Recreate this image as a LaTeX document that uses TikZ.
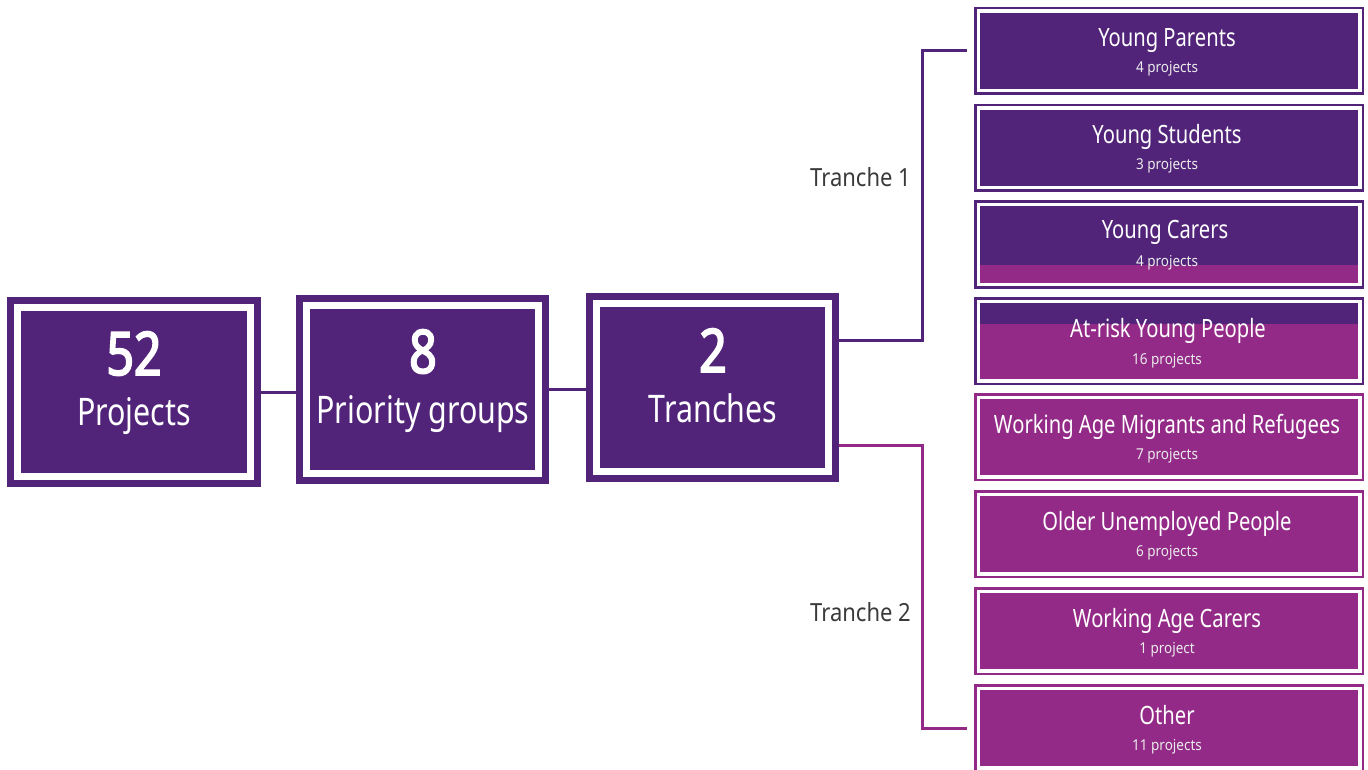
\documentclass[tikz,border=0pt]{standalone}
\usepackage{fontspec}
\setmainfont{Noto Sans}[FakeStretch=0.8]
\newfontfamily\numfont{Noto Sans}[FakeStretch=0.8, FakeBold=3]
\newfontfamily\subfont{Noto Sans}[FakeStretch=0.9]
\newfontfamily\lblfont{Noto Sans}[FakeStretch=0.88]
\definecolor{dkp}{RGB}{81,36,122}
\definecolor{mag}{RGB}{147,42,135}
\definecolor{lbl}{RGB}{58,58,58}
\tikzset{
  bigbox/.style={fill=dkp, draw=none, inner sep=0pt,
    minimum width=253pt, minimum height=189pt,
    path picture={\draw[white, line width=7pt]
      ([shift={(10.5pt,-10.5pt)}]path picture bounding box.north west) rectangle
      ([shift={(-10.5pt,10.5pt)}]path picture bounding box.south east);}},
  bignum/.style={text=white, anchor=base, font=\numfont\fontsize{60}{60}\selectfont, inner sep=0pt},
  bigword/.style={text=white, anchor=base, font=\fontsize{38}{38}\selectfont, inner sep=0pt},
  rbox/.style={draw=#1, line width=2.5pt, fill=white, inner sep=0pt,
    minimum width=387.5pt, minimum height=85.5pt},
  rtitle/.style={text=white, anchor=base, font=\fontsize{25.2}{26}\selectfont, inner sep=0pt},
  rsub/.style={text=white!92!black, anchor=base, font=\subfont\fontsize{15}{16}\selectfont, inner sep=0pt},
  tlabel/.style={text=lbl, anchor=base east, font=\lblfont\fontsize{25}{26}\selectfont, inner sep=0pt},
  link/.style={draw=#1, line width=3pt},
}
% inner panel of a group box, inset from the frame
\newcommand{\panel}[2]{\fill[#2] ([shift={(5.75pt,-5.75pt)}]#1.north west) rectangle ([shift={(-5.75pt,5.75pt)}]#1.south east);}
% one group box: name, top edge, frame colour, panel colour, title, count
\newcommand{\groupbox}[6]{%
  \node[rbox=#3] (#1) at (1169,{#2+44}) {};
  \panel{#1}{#4}
  \node[rtitle] (#1-t) at (1167,{#2+40}) {#5};
  \node[rsub] (#1-s) at (1167,{#2+66}) {#6};
}
\begin{document}
\begin{tikzpicture}[x=1pt,y=-1pt]
\useasboundingbox (0,0) rectangle (1368,770);

% summary boxes
\node[bigbox, minimum width=254pt, minimum height=190pt] (projects) at (134,392) {};
\node[bignum] (projects-n) at (134,375) {52};
\node[bigword] (projects-w) at (134,425) {Projects};

\node[bigbox] (groups) at (422.5,389.5) {};
\node[bignum] (groups-n) at (423,373) {8};
\node[bigword] (groups-w) at (423,423) {Priority groups};

\node[bigbox] (tranches) at (712.5,387.5) {};
\node[bignum] (tranches-n) at (713,372) {2};
\node[bigword] (tranches-w) at (713,422) {Tranches};

% priority groups
\groupbox{yp}{7}{dkp}{dkp}{Young Parents}{4 projects}
\groupbox{ys}{104}{dkp}{dkp}{Young Students}{3 projects}
\node[rbox=dkp] (yc) at (1169,244.5) {};
\panel{yc}{dkp}
\fill[mag] ([xshift=5.75pt]yc.west |- 0,265) rectangle ([shift={(-5.75pt,5.75pt)}]yc.south east);
\node[rtitle] (yc-t) at (1165,238) {Young Carers};
\node[rsub] (yc-s) at (1167,266) {4 projects};
\node[rbox=dkp] (ar) at (1169,341) {};
\panel{ar}{mag}
\fill[dkp] ([shift={(5.75pt,-5.75pt)}]ar.north west) rectangle ([xshift=-5.75pt]ar.east |- 0,324);
\node[rtitle] (ar-t) at (1168,337) {At-risk Young People};
\node[rsub] (ar-s) at (1167,364) {16 projects};
\groupbox{wm}{393}{mag}{mag}{Working Age Migrants and Refugees}{7 projects}
\groupbox{ou}{490}{mag}{mag}{Older Unemployed People}{6 projects}
\groupbox{wc}{587}{mag}{mag}{Working Age Carers}{1 project}
\groupbox{ot}{684}{mag}{mag}{Other}{11 projects}

% connectors
\draw[link=dkp] (projects.east) -- (projects.east -| groups.west);
\draw[link=dkp] (groups.east) -- (groups.east -| tranches.west);
\draw[link=dkp] ([yshift=47.5pt]tranches.east) -- ++(83,0) |- ([xshift=-7pt]yp.west);
\draw[link=mag] ([yshift=-58pt]tranches.east) -- ++(83,0) |- ([xshift=-7pt]ot.west);

% tranche labels
\node[tlabel] (t1) at (911,187) {Tranche 1};
\node[tlabel] (t2) at (911,621) {Tranche 2};
\end{tikzpicture}
\end{document}
